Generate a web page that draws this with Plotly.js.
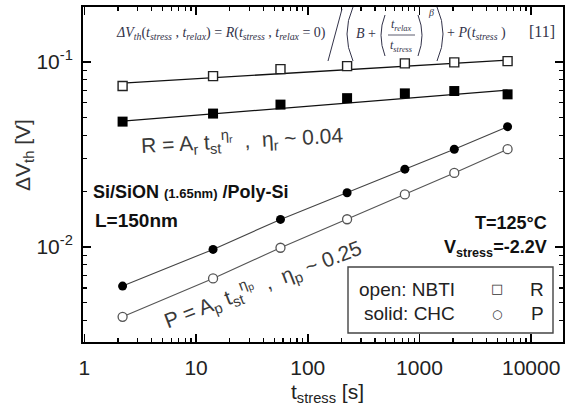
<!DOCTYPE html>
<html>
<head>
<meta charset="utf-8">
<script src="https://cdn.plot.ly/plotly-3.0.1.min.js"></script>
<style>html,body{margin:0;padding:0;background:#fff;}#chart{width:567px;height:415px;}</style>
</head>
<body>
<div id="chart"></div>
<script>
// ---- data ----
const tStress = [2.2, 14.2, 57, 225, 740, 2050, 6150];
const R_open  = [0.074, 0.0837, 0.0913, 0.0948, 0.098, 0.0993, 0.1008];   // open squares (NBTI, R)
const R_solid = [0.0475, 0.0525, 0.0587, 0.0636, 0.0675, 0.0695, 0.0667]; // solid squares (CHC, R)
const P_solid = [0.00614, 0.00969, 0.01407, 0.0196, 0.0263, 0.0337, 0.0446]; // solid circles (CHC, P)
const P_open  = [0.00419, 0.00675, 0.00989, 0.0141, 0.0192, 0.0251, 0.0337]; // open circles (NBTI, P)
const fitT = [2.2, 6150];
const R_open_fit  = [0.0767, 0.1021];
const R_solid_fit = [0.0478, 0.0703];
const xTickVals = [1, 10, 100, 1000, 10000];
const xTickText = ['1', '10', '100', '1000', '10000'];
const yTickVals = [0.01, 0.1];
const yTickText = ['10<sup>-2</sup>', '10<sup>-1</sup>'];

// ---- layout geometry (pixels) ----
const L = 83, R = 563, T = 7, B = 342, W = 567, H = 415;
const px = v => (v - L) / (R - L);
const py = v => (B - v) / (B - T);
const pp = (x, y) => px(x).toFixed(4) + ',' + py(y).toFixed(4);

const minorX = [], minorY = [];
for (let d = 0; d < 5; d++) for (let k = 2; k <= 9; k++) minorX.push(k * Math.pow(10, d));
for (let d = -3; d < 0; d++) for (let k = 2; k <= 9; k++) minorY.push(k * Math.pow(10, d));

const traces = [
  {x: fitT, y: R_open_fit, mode: 'lines', line: {color: '#111', width: 1.3}, hoverinfo: 'skip'},
  {x: fitT, y: R_solid_fit, mode: 'lines', line: {color: '#111', width: 1.3}, hoverinfo: 'skip'},
  {x: tStress, y: R_open, mode: 'markers',
   marker: {symbol: 'square', size: 9, color: '#fff', line: {color: '#222', width: 1.4}}},
  {x: tStress, y: R_solid, mode: 'markers',
   marker: {symbol: 'square', size: 10, color: '#000', line: {color: '#000', width: 0}}},
  {x: tStress, y: P_solid, mode: 'lines+markers', line: {color: '#444', width: 1.1},
   marker: {symbol: 'circle', size: 9, color: '#000'}},
  {x: tStress, y: P_open, mode: 'lines+markers', line: {color: '#555', width: 1.1},
   marker: {symbol: 'circle', size: 9, color: '#fff', line: {color: '#555', width: 1.3}}}
];

const ff = '"Liberation Sans", Arial, sans-serif';
const sf = '"Liberation Serif", "Times New Roman", serif';
const fc = '#33334a';
function ann(text, x, y, opts) {
  return Object.assign({text: text, x: px(x), y: py(y), xref: 'paper', yref: 'paper',
    showarrow: false, xanchor: 'center', yanchor: 'middle',
    font: {family: ff, size: 20, color: '#333'}}, opts || {});
}

const annotations = [
  // formula
  ann('<i>ΔV<sub>th</sub></i>(<i>t<sub>stress</sub></i> , <i>t<sub>relax</sub></i>) = <i>R</i>(<i>t<sub>stress</sub></i> , <i>t<sub>relax</sub></i> = 0)',
      114, 33, {xanchor: 'left', font: {family: sf, size: 14, color: fc}}),
  ann('<i>B</i> +', 366, 33, {font: {family: sf, size: 14, color: fc}}),
  ann('<i>t<sub>relax</sub></i>', 401, 25, {font: {family: sf, size: 12, color: fc}}),
  ann('<i>t<sub>stress</sub></i>', 401, 46, {font: {family: sf, size: 12, color: fc}}),
  ann('<i>β</i>', 431, 13, {font: {family: sf, size: 10, color: fc}}),
  ann('+ <i>P</i>(<i>t<sub>stress</sub></i> )', 445, 33, {xanchor: 'left', font: {family: sf, size: 14, color: fc}}),
  ann('[11]', 542, 32, {font: {family: sf, size: 16, color: fc}}),
  // fit expressions
  ann('R = A<sub>r</sub> t<sub>st</sub><sup>η<sub>r</sub></sup>  ,  η<sub>r</sub> ~ 0.04', 242, 140,
      {textangle: -3, font: {family: ff, size: 21, color: '#3a3a3a'}}),
  ann('P = A<sub>p</sub> t<sub>st</sub><sup>η<sub>p</sub></sup>  ,  η<sub>p</sub> ~ 0.25', 262, 284,
      {textangle: -21, font: {family: ff, size: 21, color: '#3a3a3a'}}),
  // device info
  ann('<b>Si/SiON <span style="font-size:13px">(1.65nm)</span> /Poly-Si</b>', 91, 192,
      {xanchor: 'left', font: {family: ff, size: 18, color: '#111'}}),
  ann('<b>L=150nm</b>', 93, 220, {xanchor: 'left', font: {family: ff, size: 19, color: '#111'}}),
  ann('<b>T=125°C</b>', 549, 223, {xanchor: 'right', font: {family: ff, size: 18, color: '#111'}}),
  ann('<b>V<sub>stress</sub>=-2.2V</b>', 549, 248, {xanchor: 'right', font: {family: ff, size: 18, color: '#111'}}),
  // legend box texts
  ann('open: NBTI', 357, 289, {xanchor: 'left', font: {family: ff, size: 19, color: '#222'}}),
  ann('solid: CHC', 362, 313, {xanchor: 'left', font: {family: ff, size: 19, color: '#222'}}),
  ann('□', 497, 288, {font: {family: 'DejaVu Sans', size: 13, color: '#333'}}),
  ann('○', 497, 314, {font: {family: 'DejaVu Sans', size: 12, color: '#333'}}),
  ann('R', 537, 289, {font: {family: ff, size: 19, color: '#222'}}),
  ann('P', 537, 313, {font: {family: ff, size: 19, color: '#222'}}),
  // y axis title
  ann('ΔV<sub>th</sub> [V]', 24, 155, {textangle: -90, font: {family: ff, size: 21, color: '#333'}}),
  // x axis title
  ann('t<sub>stress</sub> [s]', 327, 393, {font: {family: ff, size: 21, color: '#222'}})
];

const fl = {color: fc, width: 1};
const shapes = [
  {type: 'rect', xref: 'paper', yref: 'paper', x0: px(348), x1: px(553), y0: py(333), y1: py(267),
   line: {color: '#444', width: 1.4}, fillcolor: 'rgba(255,255,255,0)'},
  // formula drawing: long slash, large and inner parentheses, fraction bar
  {type: 'line', xref: 'paper', yref: 'paper', x0: px(328), y0: py(61), x1: px(342), y1: py(9), line: fl},
  {type: 'path', xref: 'paper', yref: 'paper', path: 'M' + pp(353, 7) + ' Q' + pp(341, 34) + ' ' + pp(353, 61), line: fl},
  {type: 'path', xref: 'paper', yref: 'paper', path: 'M' + pp(437, 7) + ' Q' + pp(449, 34) + ' ' + pp(437, 61), line: fl},
  {type: 'path', xref: 'paper', yref: 'paper', path: 'M' + pp(385, 15) + ' Q' + pp(377, 35) + ' ' + pp(385, 56), line: fl},
  {type: 'path', xref: 'paper', yref: 'paper', path: 'M' + pp(418, 15) + ' Q' + pp(426, 35) + ' ' + pp(418, 56), line: fl},
  {type: 'line', xref: 'paper', yref: 'paper', x0: px(388), x1: px(415), y0: py(35), y1: py(35), line: {color: fc, width: 0.8}}
];

const axisCommon = {
  showgrid: false, zeroline: false, showline: true, linecolor: '#000', linewidth: 2,
  mirror: 'ticks', ticks: 'inside', ticklen: 8, tickwidth: 1.5, tickcolor: '#000',
  tickfont: {family: ff, size: 21, color: '#222'}
};

const layout = {
  width: W, height: H,
  margin: {l: L, r: W - R, t: T, b: H - B, pad: 0},
  paper_bgcolor: '#fff', plot_bgcolor: '#fff',
  showlegend: false,
  xaxis: Object.assign({}, axisCommon, {
    type: 'log', range: [-0.012, 4.285], tickmode: 'array', tickvals: xTickVals, ticktext: xTickText,
    ticklabelstandoff: 6,
    minor: {tickmode: 'array', tickvals: minorX, ticks: 'inside', ticklen: 4, tickwidth: 1.2, tickcolor: '#000', showgrid: false}
  }),
  yaxis: Object.assign({}, axisCommon, {
    type: 'log', range: [-2.514, -0.704], tickmode: 'array', tickvals: yTickVals, ticktext: yTickText,
    ticklabelstandoff: 4,
    minor: {tickmode: 'array', tickvals: minorY, ticks: 'inside', ticklen: 4, tickwidth: 1.2, tickcolor: '#000', showgrid: false}
  }),
  annotations: annotations,
  shapes: shapes
};

Plotly.newPlot('chart', traces, layout, {staticPlot: true, displayModeBar: false});
</script>
</body>
</html>
